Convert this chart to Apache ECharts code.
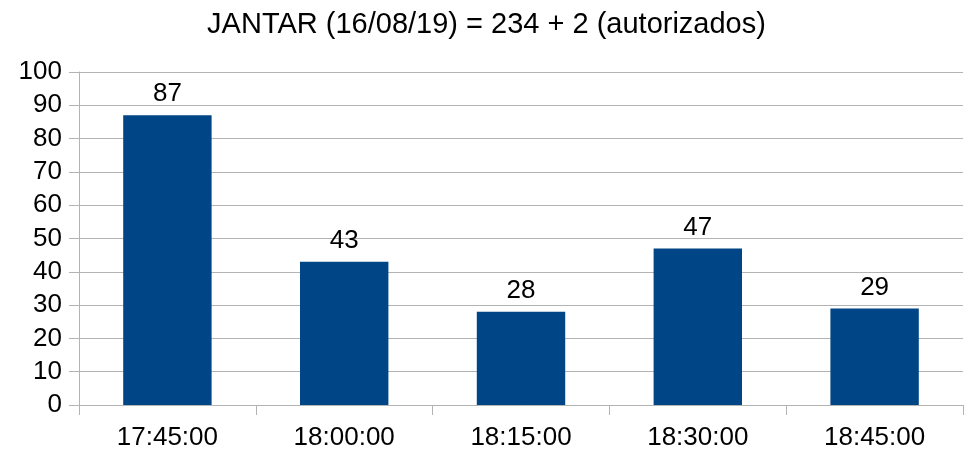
<!DOCTYPE html>
<html><head><meta charset="utf-8">
<script src="https://cdn.jsdelivr.net/npm/echarts@6/dist/echarts.min.js"></script>
<style>html,body{margin:0;padding:0;background:#fff}#c{width:973px;height:453px}</style>
</head><body><div id="c"></div>
<script>
const titleText = 'JANTAR (16/08/19) = 234 + 2 (autorizados)';
const categories = ['17:45:00', '18:00:00', '18:15:00', '18:30:00', '18:45:00'];
const values = [87, 43, 28, 47, 29];
const yMin = 0, yMax = 100, yStep = 10;

const chart = echarts.init(document.getElementById('c'), null, {renderer: 'canvas'});
const font = 'Liberation Sans, Arial, sans-serif';
chart.setOption({
  animation: false,
  backgroundColor: '#fff',
  title: {text: titleText, left: 'center', top: 5,
    textStyle: {fontFamily: font, fontSize: 29, fontWeight: 'normal', color: '#000'}},
  grid: {left: 79, right: 10, top: 72, bottom: 48, containLabel: false},
  xAxis: {type: 'category', data: categories,
    axisLine: {lineStyle: {color: '#b3b3b3', width: 1}},
    axisTick: {show: true, length: 10, alignWithLabel: false, lineStyle: {color: '#b3b3b3'}},
    axisLabel: {fontFamily: font, fontSize: 26, color: '#000', margin: 20}},
  yAxis: {type: 'value', min: yMin, max: yMax, interval: yStep,
    axisLine: {show: true, lineStyle: {color: '#b3b3b3', width: 1}},
    axisTick: {show: true, length: 10, lineStyle: {color: '#b3b3b3'}},
    splitLine: {show: true, lineStyle: {color: '#b3b3b3', width: 1}},
    axisLabel: {fontFamily: font, fontSize: 26, color: '#000', margin: 17}},
  series: [{type: 'bar', data: values, barWidth: '50%',
    itemStyle: {color: '#004586'},
    label: {show: true, position: 'top', distance: 8, fontFamily: font, fontSize: 26, color: '#000'}}]
});
</script></body></html>
